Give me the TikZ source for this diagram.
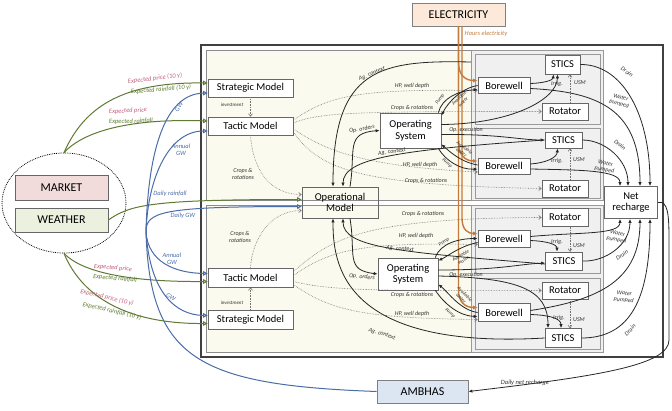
\documentclass[tikz,border=0pt]{standalone}
\usepackage{fontspec}
\setmainfont{Carlito}
\usetikzlibrary{arrows.meta,shapes.geometric}
\definecolor{olv}{HTML}{5F7A32}
\definecolor{rosec}{HTML}{C0607A}
\definecolor{blu}{HTML}{4A6CA8}
\definecolor{orgc}{HTML}{C47A3A}
\definecolor{mkt}{HTML}{F2DCDB}
\definecolor{wth}{HTML}{EBF1DE}
\definecolor{elc}{HTML}{FDE9D9}
\definecolor{amb}{HTML}{DCE6F2}
\definecolor{pnl}{HTML}{FAFAEE}
\definecolor{gpn}{HTML}{F0F0F0}
\begin{document}
\begin{tikzpicture}[x=1pt,y=-1pt,
  box/.style={draw=black!60, fill=white, line width=0.7pt, inner sep=1pt, align=center, font=\fontsize{10.5}{11.5}\selectfont},
  bigbox/.style={box, font=\fontsize{12}{13}\selectfont},
  lbl/.style={font=\fontsize{6}{6.5}\selectfont\itshape, text=black!80, inner sep=0.3pt, align=center},
  slbl/.style={font=\fontsize{5}{5.6}\selectfont\itshape, text=black!80, inner sep=0.2pt, align=center},
  clbl/.style={font=\fontsize{6.5}{7}\selectfont\itshape, inner sep=0.3pt, align=center},
  conn/.style={draw=black!85, line width=0.8pt, -{Latex[length=4pt,width=3.4pt]}},
  dotconn/.style={draw=black!55, densely dotted, line width=0.6pt, -{Straight Barb[length=2.5pt,width=4pt]}},
  olvline/.style={draw=olv, line width=1pt, -{Triangle[open,length=4.5pt,width=4.5pt]}},
  bluline/.style={draw=blu, line width=1pt, -{Triangle[open,length=4.5pt,width=4.5pt]}},
  bluplain/.style={draw=blu, line width=1pt},
  orgline/.style={draw=orgc, line width=1.4pt, -{Latex[length=4.5pt,width=4pt]}},
  pnlrect/.style={draw=black!45, line width=0.5pt, fill=pnl},
  grect/.style={draw=black!40, line width=0.5pt, fill=gpn},
  srect/.style={draw=black!40, line width=0.5pt},
]
\useasboundingbox (0,0) rectangle (672,410);
% frames
\draw[line width=1.2pt, draw=black!75] (201,45) rectangle (663,357);
\draw[pnlrect] (206,50) rectangle (603,200);
\draw[pnlrect] (206,205) rectangle (603,352);
\draw[grect] (471,50) rectangle (603,200);
\draw[grect] (471,205) rectangle (603,352);
\draw[srect] (475,54) rectangle (600,124);
\draw[srect] (475,128) rectangle (600,198);
\draw[srect] (475,208) rectangle (600,273);
\draw[srect] (475,278) rectangle (600,349);
\coordinate (fld1) at (471,62);

% outside nodes
\node[draw=black, densely dotted, line width=0.8pt, ellipse, minimum width=124pt, minimum height=100pt] (cloud) at (64,203) {};
\node[bigbox, fill=mkt, minimum width=93pt, minimum height=25pt] (market) at (61.5,187.5) {MARKET};
\node[bigbox, fill=wth, minimum width=93pt, minimum height=24pt] (weather) at (61.5,220) {WEATHER};
\node[bigbox, fill=elc, draw=black!50, minimum width=93pt, minimum height=23pt] (elec) at (458.5,14.5) {ELECTRICITY};
\node[bigbox, fill=amb, draw=black!50, minimum width=91pt, minimum height=23pt] (ambhas) at (422.5,391.5) {AMBHAS};

% model nodes
\node[box, minimum width=85pt, minimum height=18pt] (strat1) at (250.5,88) {Strategic Model};
\node[box, minimum width=85pt, minimum height=18pt] (tact1) at (250.5,126) {Tactic Model};
\node[box, minimum width=85pt, minimum height=19pt] (tact2) at (250.5,277.5) {Tactic Model};
\node[box, minimum width=85pt, minimum height=19pt] (strat2) at (250.5,319.5) {Strategic Model};
\node[box, fill=none, minimum width=76pt, minimum height=31pt] (oper) at (340,202.5) {Operational\\Model};
\node[box, minimum width=61pt, minimum height=35pt] (os1) at (410.5,130.5) {Operating\\System};
\node[box, minimum width=60pt, minimum height=32pt] (os2) at (408,274) {Operating\\System};
\node[box, minimum width=53pt, minimum height=32pt] (net) at (631,202.5) {Net\\recharge};

% field nodes
\node[box, minimum width=35pt, minimum height=19pt] (stics1) at (562.5,64.5) {STICS};
\node[box, minimum width=52pt, minimum height=16pt] (bore1) at (504,85.5) {Borewell};
\node[box, minimum width=46pt, minimum height=17pt] (rot1) at (565,111.5) {Rotator};
\node[box, minimum width=37pt, minimum height=16pt] (stics2) at (563.5,140) {STICS};
\node[box, minimum width=52pt, minimum height=16pt] (bore2) at (504,166) {Borewell};
\node[box, minimum width=46pt, minimum height=17pt] (rot2) at (565,188.5) {Rotator};
\node[box, minimum width=46pt, minimum height=18pt] (rot3) at (565,217.5) {Rotator};
\node[box, minimum width=52pt, minimum height=17pt] (bore3) at (504,238.5) {Borewell};
\node[box, minimum width=37pt, minimum height=18pt] (stics3) at (564,261) {STICS};
\node[box, minimum width=46pt, minimum height=17pt] (rot4) at (565,290.5) {Rotator};
\node[box, minimum width=52pt, minimum height=18pt] (bore4) at (504,312.5) {Borewell};
\node[box, minimum width=36pt, minimum height=19pt] (stics4) at (563,338) {STICS};

\coordinate (hub) at (146,232);

% ---- market / weather (olive)
\draw[olvline] (cloud.north) .. controls (85,105) and (125,82) .. ([yshift=5pt]strat1.west);
\draw[olvline] (cloud.north) .. controls (80,135) and (120,118) .. ([yshift=5pt]tact1.west);
\draw[olvline] (cloud.south) .. controls (80,270) and (120,282) .. ([yshift=-4pt]tact2.west);
\draw[olvline] (cloud.south) .. controls (80,292) and (120,324) .. ([yshift=-4pt]strat2.west);
\draw[olvline] (weather.east) .. controls (130,205) and (150,199.5) .. ([yshift=3pt]oper.west);
\node[clbl, text=rosec, rotate=7] (l1) at (155,78.5) {Expected price (10 y)};
\node[clbl, text=olv, rotate=5] (l2) at (161,89.5) {Expected rainfall (10 y)};
\node[clbl, text=rosec, rotate=3] (l3) at (128,111) {Expected price};
\node[clbl, text=olv, rotate=2] (l4) at (131,121.5) {Expected rainfall};
\node[clbl, text=rosec, rotate=-5] (l5) at (113,268) {Expected price};
\node[clbl, text=olv, rotate=-5] (l6) at (115,278.5) {Expected rainfall};
\node[clbl, text=rosec, rotate=-13] (l7) at (107,297.5) {Expected price (10 y)};
\node[clbl, text=olv, rotate=-13] (l8) at (112,311) {Expected rainfall (10 y)};
\node[clbl, text=blu] (l9) at (170,193.5) {Daily rainfall};

% ---- groundwater (blue)
\draw[bluplain] (ambhas.west) .. controls (200,385) and (150,360) .. (hub);
\draw[bluline] (hub) .. controls (148,150) and (165,94) .. ([yshift=-5pt]strat1.west);
\draw[bluline] (hub) .. controls (148,175) and (170,131) .. ([yshift=-5pt]tact1.west);
\draw[bluline] (hub) .. controls (146,212) and (160,206.5) .. ([yshift=-4pt]oper.west);
\draw[bluline] (hub) .. controls (148,262) and (175,273) .. ([yshift=4pt]tact2.west);
\draw[bluline] (hub) .. controls (150,292) and (175,315) .. ([yshift=4pt]strat2.west);
\node[clbl, text=blu, rotate=55] (g1) at (179,107) {GW};
\node[clbl, text=blu] (g2) at (181,150) {Annual\\GW};
\node[clbl, text=blu] (g3) at (183,216) {Daily GW};
\node[clbl, text=blu] (g4) at (172,259) {Annual\\GW};
\node[clbl, text=blu, rotate=-30] (g5) at (171,297) {GW};

% ---- electricity (orange)
\draw[orgline] (elec.south) -- (458.5,62) .. controls (458.5,76) and (466,80.5) .. ([yshift=5pt]bore1.west);
\draw[orgline] (elec.south) -- (458.5,142) .. controls (458.5,156) and (466,161) .. ([yshift=5pt]bore2.west);
\draw[orgline] ([xshift=3.5pt]elec.south) -- (462,218) .. controls (462,230) and (468,233.5) .. ([yshift=5pt]bore3.west);
\draw[orgline] (elec.south) -- (458.5,290) .. controls (458.5,303) and (466,307.5) .. ([yshift=5pt]bore4.west);
\node[clbl, text=orgc] (he) at (486,34) {Hours electricity};

% ---- strategic/tactic
\draw[dotconn] (strat1.south) -- (tact1.north);
\draw[dotconn] (strat2.north) -- (tact2.south);
\node[slbl] (inv1) at (232,105) {investment};
\node[slbl] (inv2) at (232,303) {investment};
\draw[dotconn] (tact1.south) .. controls (253,170) and (270,194.5) .. ([yshift=8pt]oper.west);
\draw[dotconn] (tact2.north) .. controls (252,240) and (270,210.5) .. ([yshift=-8pt]oper.west);
\node[lbl] (cr1) at (243,174) {Crops \&\\rotations};
\node[lbl] (cr2) at (240,237) {Crops \&\\rotations};

% tactic -> fields (upper)
\draw[dotconn] ([yshift=6pt]tact1.east) .. controls (330,95) and (360,89) .. ([yshift=-5pt]bore1.west);
\draw[dotconn] ([yshift=3pt]tact1.east) .. controls (320,112) and (360,111.5) .. (rot1.west);
\draw[dotconn] ([yshift=-3pt]tact1.east) .. controls (325,150) and (360,166) .. ([yshift=-6pt]bore2.west);
\draw[dotconn] ([yshift=-6pt]tact1.east) .. controls (320,170) and (360,185) .. (rot2.west);
\node[lbl] (hp1) at (412,86) {HP, well depth};
\node[lbl] (crr1) at (412,108) {Crops \& rotations};
\node[lbl] (hp2) at (420,165) {HP, well depth};
\node[lbl] (crr2) at (426,181) {Crops \& rotations};
% tactic -> fields (lower)
\draw[dotconn] ([yshift=6pt]tact2.east) .. controls (330,240) and (360,218) .. (rot3.west);
\draw[dotconn] ([yshift=2pt]tact2.east) .. controls (330,250) and (360,242) .. ([yshift=-6pt]bore3.west);
\draw[dotconn] ([yshift=-4pt]tact2.east) .. controls (330,290) and (360,291) .. (rot4.west);
\draw[dotconn] ([yshift=-7pt]tact2.east) .. controls (330,310) and (360,318) .. ([yshift=-7pt]bore4.west);
\node[lbl] (crr3) at (423,214) {Crops \& rotations};
\node[lbl] (hp3) at (416,236) {HP, well depth};
\node[lbl] (crr4) at (412,295) {Crops \& rotations};
\node[lbl] (hp4) at (412,314) {HP, well depth};

% ---- operational <-> operating systems / stics
\draw[conn] (fld1) .. controls (380,60) and (333,68) .. ([xshift=-7pt]oper.north);
\draw[conn] (stics2.west) .. controls (400,150) and (343,158) .. ([xshift=3pt]oper.north);
\draw[conn] ([xshift=10pt]oper.north) .. controls (356,150) and (345,133) .. (os1.west);
\node[lbl, rotate=22] (ag1) at (372,74) {Ag. context};
\node[lbl, rotate=8] (ag2) at (392,152) {Ag. context};
\node[lbl, rotate=10] (oo1) at (362,129) {Op. orders};
\draw[conn] ([yshift=-3pt]stics3.west) .. controls (400,252) and (343,248) .. ([xshift=3pt]oper.south);
\draw[conn] (stics4.west) .. controls (340,350) and (333,262) .. ([xshift=-7pt]oper.south);
\draw[conn] ([xshift=10pt]oper.south) .. controls (356,255) and (345,270) .. (os2.west);
\node[lbl, rotate=-5] (ag3) at (400,249) {Ag. context};
\node[lbl, rotate=-18] (ag4) at (382,334) {Ag. context};
\node[lbl, rotate=-5] (oo2) at (362,277) {Op. orders};

% op execution
\draw[conn] ([yshift=6pt]os1.east) .. controls (510,124) and (557,100) .. ([xshift=-5pt]stics1.south);
\draw[conn] ([yshift=-4pt]os1.east) .. controls (500,134) and (520,140) .. (stics2.west);
\node[lbl] (oe1) at (466,129.5) {Op. execution};
\draw[conn] ([yshift=4pt]os2.east) .. controls (500,270) and (520,264) .. ([yshift=-2pt]stics3.west);
\draw[conn] ([yshift=-2pt]os2.east) .. controls (520,278) and (548,290) .. ([xshift=-15pt]stics4.north);
\node[lbl] (oe2) at (466,275) {Op. execution};

% pump / available water
\draw[conn] ([xshift=-3pt]os1.north east) .. controls (442,98) and (458,91) .. ([yshift=-4pt]bore1.west);
\draw[conn] (bore1.west) .. controls (462,88) and (448,102) .. ([yshift=-3pt]os1.north east);
\node[slbl, rotate=55] (pu1) at (440,99) {Pump};
\node[slbl, rotate=45] (aw1) at (461,100) {Available\\water};
\draw[conn] ([yshift=1pt]bore2.west) .. controls (460,162) and (448,150) .. ([yshift=4pt]os1.south east);
\draw[conn] ([xshift=-3pt]os1.south east) .. controls (445,160) and (460,170) .. ([yshift=-3pt]bore2.west);
\node[slbl, rotate=-35] (aw2) at (463,150) {Available\\water};
\node[slbl, rotate=-40] (pu2) at (447,163) {Pump};
\draw[conn] ([xshift=-3pt]os2.north east) .. controls (440,243) and (460,238.5) .. (bore3.west);
\draw[conn] ([yshift=-4pt]bore3.west) .. controls (460,246) and (448,256) .. ([yshift=-3pt]os2.north east);
\node[slbl, rotate=35] (pu3) at (444,242) {Pump};
\node[slbl, rotate=30] (aw3) at (462,258) {Available\\water};
\draw[conn] (bore4.west) .. controls (460,310) and (448,292) .. ([yshift=6pt]os2.south east);
\draw[conn] ([xshift=-3pt]os2.south east) .. controls (445,305) and (460,316) .. ([yshift=-4pt]bore4.west);
\node[slbl, rotate=-45] (aw4) at (463,296) {Available\\water};
\node[slbl, rotate=-40] (pu4) at (450,313) {Pump};

% irrigation and USM
\draw[conn] ([yshift=2pt]bore1.east) .. controls (545,83) and (553,80) .. ([xshift=-9pt]stics1.south);
\draw[dotconn] ([xshift=5pt]rot1.north) -- ([xshift=7.5pt]stics1.south);
\node[lbl] (ir1) at (557,84) {Irrig.};
\node[lbl] (us1) at (580,83) {USM};
\draw[conn] ([yshift=2pt]bore2.east) .. controls (545,163) and (557,158) .. ([xshift=-6pt]stics2.south);
\draw[dotconn] ([xshift=5pt]rot2.north) -- ([xshift=6.5pt]stics2.south);
\node[lbl] (ir2) at (557,161) {Irrig.};
\node[lbl] (us2) at (579,160) {USM};
\draw[conn] ([yshift=-2pt]bore3.east) .. controls (545,241) and (557,244) .. ([xshift=-7pt]stics3.north);
\draw[dotconn] ([xshift=5pt]rot3.south) -- ([xshift=6pt]stics3.north);
\node[lbl] (ir3) at (557,242) {Irrig.};
\node[lbl] (us3) at (579,246) {USM};
\draw[conn] ([yshift=-2pt]bore4.east) .. controls (548,315) and (561,318) .. ([xshift=-2pt]stics4.north);
\draw[dotconn] ([xshift=5pt]rot4.south) -- ([xshift=7pt]stics4.north);
\node[lbl] (ir4) at (559,318) {Irrig.};
\node[lbl] (us4) at (579,320) {USM};

% drain and water pumped
\draw[conn] (stics1.east) .. controls (620,64) and (650,110) .. ([xshift=19pt]net.north);
\draw[conn] ([yshift=-3pt]bore1.east) .. controls (600,92) and (640,110) .. ([xshift=9pt]net.north);
\draw[conn] (stics2.east) .. controls (605,140) and (628,160) .. ([xshift=-3pt]net.north);
\draw[conn] ([yshift=-3pt]bore2.east) .. controls (580,170) and (620,170) .. ([xshift=-11pt]net.north);
\node[lbl, rotate=-35] (dr1) at (627,72) {Drain};
\node[lbl, rotate=-15] (wp1) at (620,101) {Water\\pumped};
\node[lbl, rotate=-40] (dr2) at (620,145) {Drain};
\node[lbl, rotate=-10] (wp2) at (605,167) {Water\\pumped};
\draw[conn] (stics3.east) .. controls (605,262) and (630,245) .. ([xshift=-1pt]net.south);
\draw[conn] ([yshift=2pt]bore3.east) .. controls (580,232) and (620,235) .. ([xshift=-11pt]net.south);
\draw[conn] (stics4.east) .. controls (630,338) and (650,300) .. ([xshift=19pt]net.south);
\draw[conn] ([yshift=2pt]bore4.east) .. controls (600,300) and (640,280) .. ([xshift=9pt]net.south);
\node[lbl, rotate=35] (dr3) at (622,255) {Drain};
\node[lbl, rotate=-10] (wp3) at (617,237) {Water\\pumped};
\node[lbl, rotate=45] (dr4) at (630,330) {Drain};
\node[lbl, rotate=-5] (wp4) at (624,297) {Water\\pumped};

% net recharge -> AMBHAS
\draw[conn] (net.east) .. controls (668,200) and (669,215) .. (669,240) -- (669,340) .. controls (669,365) and (600,376) .. (ambhas.east);
\node[clbl, text=black!80] (dnr) at (525,383) {Daily net recharge};
\end{tikzpicture}
\end{document}
